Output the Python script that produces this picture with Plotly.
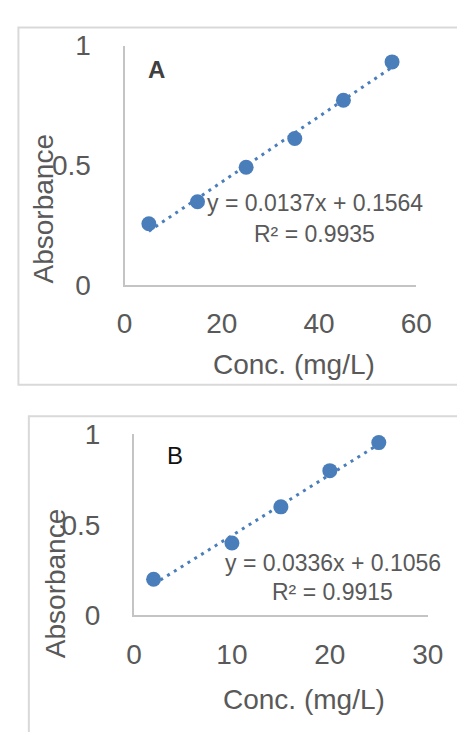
import plotly.graph_objects as go

# ---- data ----
conc_A = [5, 15, 25, 35, 45, 55]
abs_A = [0.256, 0.348, 0.492, 0.612, 0.772, 0.932]
slope_A, intercept_A, r2_A = 0.0137, 0.1564, 0.9935

conc_B = [2, 10, 15, 20, 25]
abs_B = [0.20, 0.40, 0.60, 0.80, 0.955]
slope_B, intercept_B, r2_B = 0.0336, 0.1056, 0.9915

xticks_A = [0, 20, 40, 60]
xticks_B = [0, 10, 20, 30]
yticks = [0, 0.5, 1]
ytick_text = ["0", "0.5", "1"]

W, H = 457, 732
FONT = "Liberation Sans, Arial, sans-serif"
TXT = "#595959"
BLUE = "#4a7ebb"


def px(x):
    return x / W


def py(y):
    return 1 - y / H


fig = go.Figure()

# markers
fig.add_trace(go.Scatter(x=conc_A, y=abs_A, mode="markers", xaxis="x", yaxis="y",
                         marker=dict(size=15, color=BLUE), showlegend=False))
fig.add_trace(go.Scatter(x=conc_B, y=abs_B, mode="markers", xaxis="x2", yaxis="y2",
                         marker=dict(size=15, color=BLUE), showlegend=False))

# trendlines
tx_A = [min(conc_A), max(conc_A)]
fig.add_trace(go.Scatter(x=tx_A, y=[slope_A * v + intercept_A for v in tx_A], mode="lines",
                         xaxis="x", yaxis="y", line=dict(color=BLUE, width=3, dash="3px,5px"),
                         showlegend=False))
tx_B = [min(conc_B), max(conc_B)]
fig.add_trace(go.Scatter(x=tx_B, y=[slope_B * v + intercept_B for v in tx_B], mode="lines",
                         xaxis="x2", yaxis="y2", line=dict(color=BLUE, width=3, dash="3px,5px"),
                         showlegend=False))

axis_common = dict(showgrid=False, zeroline=False, showline=True, linecolor="#c4c4c4",
                   linewidth=2, ticks="outside", tickcolor="rgba(0,0,0,0)",
                   tickfont=dict(family=FONT, size=28, color=TXT), fixedrange=True)

fig.update_layout(
    width=W, height=H, margin=dict(l=0, r=0, t=0, b=0),
    paper_bgcolor="white", plot_bgcolor="white",
    xaxis=dict(axis_common, domain=[px(123), px(431)], range=[0, 60], tickvals=xticks_A,
               ticklen=12, anchor="y"),
    yaxis=dict(axis_common, domain=[py(282), py(32)], range=[0, 1], tickvals=yticks,
               ticktext=ytick_text, ticklen=26, anchor="x"),
    xaxis2=dict(axis_common, domain=[px(133), px(443)], range=[0, 30], tickvals=xticks_B,
                ticklen=13, anchor="y2"),
    yaxis2=dict(axis_common, domain=[py(627), py(438)], range=[0, 1], tickvals=yticks,
                ticktext=ytick_text, ticklen=26, anchor="x2"),
)

# outer chart borders
fig.add_shape(type="rect", xref="paper", yref="paper", x0=px(11), x1=px(475), y0=py(386), y1=py(13),
              line=dict(color="#d9d9d9", width=2), layer="below")
fig.add_shape(type="rect", xref="paper", yref="paper", x0=px(22), x1=px(475), y0=py(760), y1=py(419),
              line=dict(color="#d9d9d9", width=2), layer="below")


def ann(text, x, y, size, color=TXT, angle=0, bold=False):
    fig.add_annotation(text=f"<b>{text}</b>" if bold else text, xref="paper", yref="paper",
                       x=px(x), y=py(y), xanchor="center", yanchor="middle", showarrow=False,
                       textangle=angle, font=dict(family=FONT, size=size, color=color))


# axis titles
ann("Absorbance", 37, 203, 28, angle=-90)
ann("Conc. (mg/L)", 302, 365, 28)
ann("Absorbance", 51, 594, 28, angle=-90)
ann("Conc. (mg/L)", 312, 715, 28)

# panel labels
ann("A", 157, 57, 24, color="#404040", bold=True)
ann("B", 176, 460, 24, color="#111111")

# trendline equations
ann(f"y = {slope_A:.4f}x + {intercept_A:.4f}", 324, 196, 23)
ann(f"R² = {r2_A:.4f}", 324, 229, 23)
ann(f"y = {slope_B:.4f}x + {intercept_B:.4f}", 343, 572, 23)
ann(f"R² = {r2_B:.4f}", 343, 603, 23)

fig.write_html("out.html")
